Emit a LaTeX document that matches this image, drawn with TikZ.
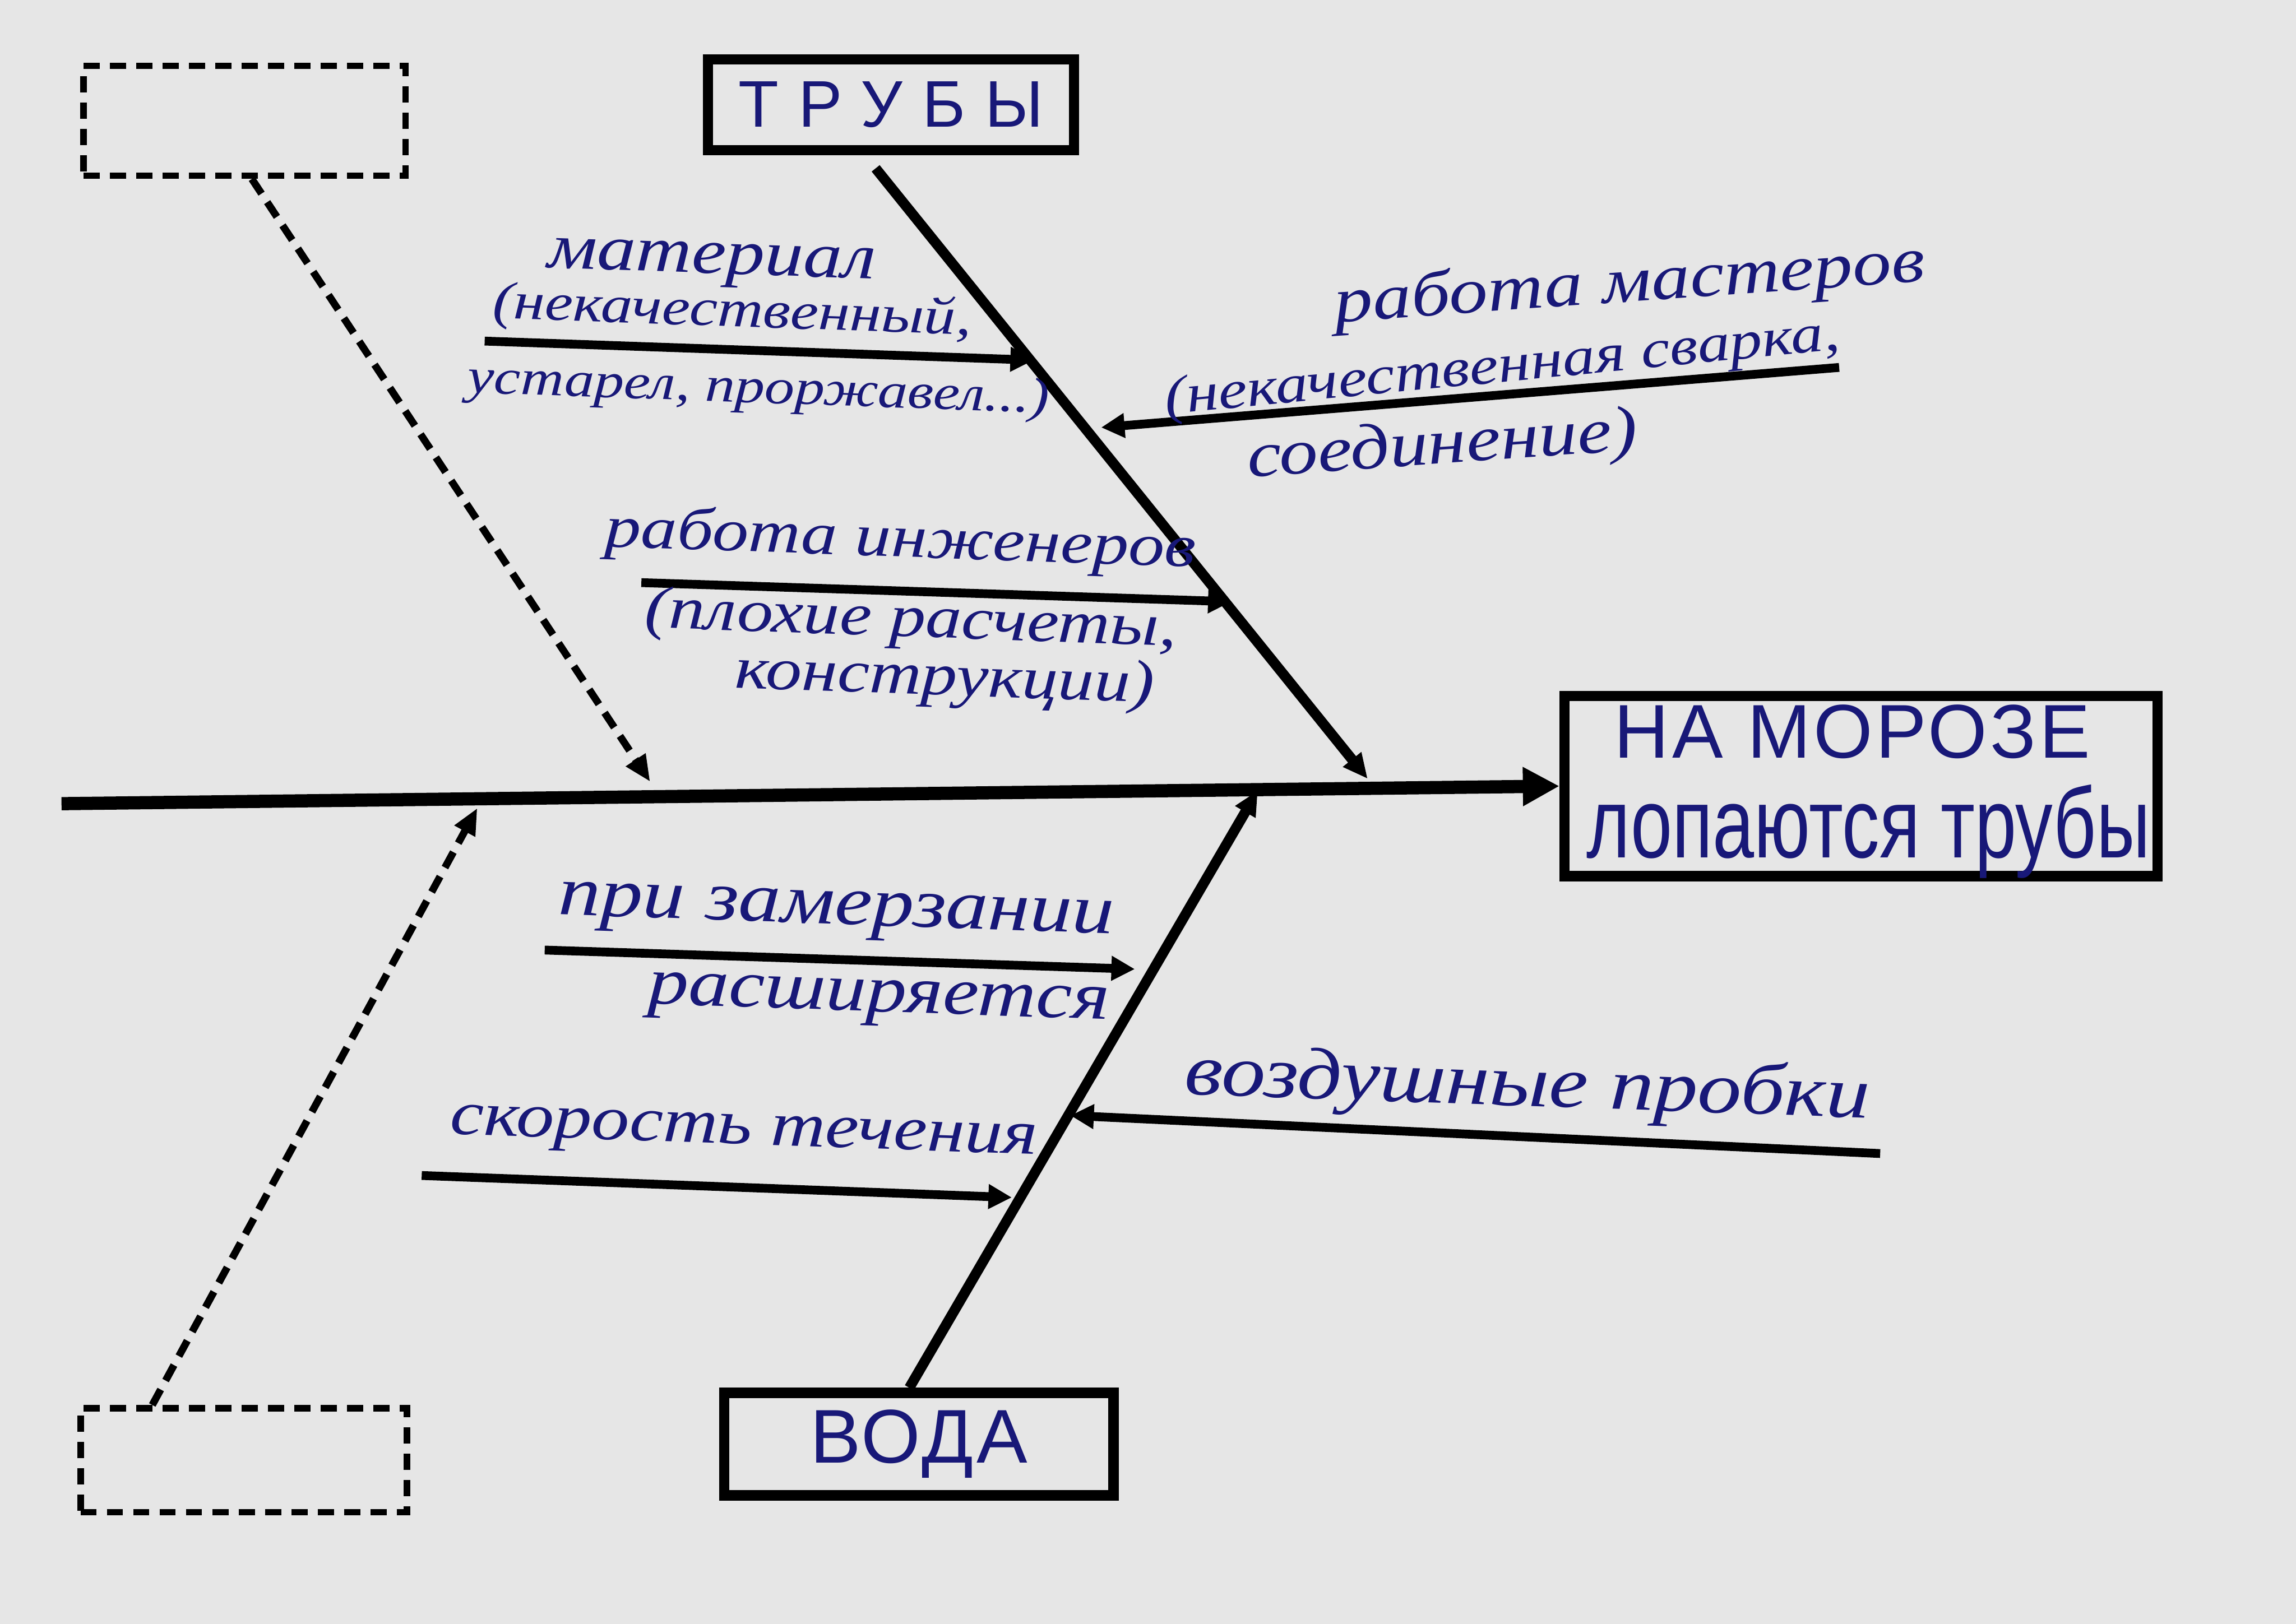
\documentclass[tikz,border=0pt]{standalone}
\usepackage{fontspec}
\usetikzlibrary{arrows.meta,calc}
\newfontfamily\hand[FakeStretch=1.2]{Liberation Serif}
\newfontfamily\blockTR[LetterSpace=30]{Liberation Sans}
\newfontfamily\blockV[LetterSpace=4]{Liberation Sans}
\newfontfamily\blockN[FakeStretch=0.75]{Liberation Sans}
\definecolor{ink}{RGB}{24,24,120}
\definecolor{paper}{RGB}{230,230,230}
\begin{document}
\begin{tikzpicture}[x=1mm,y=-1mm,
  solidbox/.style={draw=black,line width=7mm,inner sep=0pt,text=ink},
  dashbox/.style={draw=black,line width=4.5mm,dash pattern=on 11mm off 7mm,inner sep=0pt},
  spine/.style={line width=9mm,-{Triangle[length=25mm,width=25mm]}},
  bone/.style={line width=7mm,-{Triangle[length=17mm,width=15mm]}},
  twig/.style={line width=6mm,-{Triangle[length=16mm,width=16mm]}},
  dashbone/.style={line width=5mm,dash pattern=on 12mm off 7mm,-{Triangle[length=18mm,width=15mm]}},
  hand/.style={text=ink,inner sep=0pt,font=\hand\itshape\fontsize{#1}{#1}\selectfont},
  blocktxt/.style={text=ink,inner sep=0pt}
]
\fill[paper] (0,0) rectangle (1568,1109.3);
\useasboundingbox (0,0) rectangle (1568,1109.3);

% boxes
\node[solidbox,minimum width=250mm,minimum height=62mm] (trub) at (608.5,71.5)
  {\blockTR\fontsize{45mm}{45mm}\selectfont ТРУБЫ};
\node[solidbox,minimum width=266mm,minimum height=70mm] (voda) at (627.5,986.5)
  {\blockV\fontsize{52mm}{52mm}\selectfont ВОДА};
\node[solidbox,minimum width=405mm,minimum height=123mm] (eff) at (1271,537) {};
\node[blocktxt,font=\blockV\fontsize{52mm}{52mm}\selectfont] (eff1) at (1265,500) {НА МОРОЗЕ};
\node[blocktxt,font=\blockN\fontsize{68mm}{68mm}\selectfont] (eff2) at (1276,568) {лопаются трубы};
\node[dashbox,minimum width=220mm,minimum height=75mm] (tl) at (167,82.5) {};
\node[dashbox,minimum width=223mm,minimum height=71mm] (bl) at (166.5,997.5) {};

% spine and bones
\coordinate (tail) at (42,549);
\draw[spine] (tail) -- (eff.west);
\coordinate (tb0) at (598,115);
\coordinate (tb1) at (934,532);
\draw[bone] (tb0) -- (tb1);
\coordinate (vb0) at (621,948);
\coordinate (vb1) at (859,540);
\draw[bone] (vb0) -- (vb1);
\coordinate (tlend) at (444,534);
\draw[dashbone] ([xshift=5mm]tl.south) -- (tlend);
\coordinate (blend) at (326,552);
\draw[dashbone] ([xshift=-62.5mm]bl.north) -- (blend);

% twigs
\coordinate (a1s) at (331,233); \coordinate (a1e) at (706,246);
\coordinate (a2s) at (1256,251); \coordinate (a2e) at (752,292);
\coordinate (a3s) at (438,398); \coordinate (a3e) at (841,411);
\coordinate (a4s) at (372,649); \coordinate (a4e) at (775,662);
\coordinate (a5s) at (1284,788); \coordinate (a5e) at (731,762);
\coordinate (a6s) at (288,803); \coordinate (a6e) at (691,818);
\draw[twig] (a1s) -- (a1e);
\draw[twig] (a2s) -- (a2e);
\draw[twig] (a3s) -- (a3e);
\draw[twig] (a4s) -- (a4e);
\draw[twig] (a5s) -- (a5e);
\draw[twig] (a6s) -- (a6e);

% labels
\node[hand=44mm,rotate=-2] (m1) at (486,181) {материал};
\node[hand=36mm,rotate=-2] (m2) at (500,214) {(некачественный,};
\node[hand=34mm,rotate=-2] (m3) at (518,267) {устарел, проржавел...)};
\node[hand=44mm,rotate=4] (w1) at (1113,195) {работа мастеров};
\node[hand=37mm,rotate=5.5] (w2) at (1026,252) {(некачественная сварка,};
\node[hand=44mm,rotate=4] (w3) at (985,306) {соединение)};
\node[hand=41mm,rotate=-2] (i1) at (615,370) {работа инженеров};
\node[hand=41mm,rotate=-2] (i2) at (622,425) {(плохие расчеты,};
\node[hand=41mm,rotate=-2] (i3) at (645,465) {конструкции)};
\node[hand=48mm,rotate=-2] (z1) at (571,625) {при замерзании};
\node[hand=46mm,rotate=-2] (z2) at (600,685) {расширяется};
\node[hand=43mm,rotate=-2] (s1) at (508,776) {скорость течения};
\node[hand=50mm,rotate=-2] (p1) at (1043,743) {воздушные пробки};
\end{tikzpicture}
\end{document}
